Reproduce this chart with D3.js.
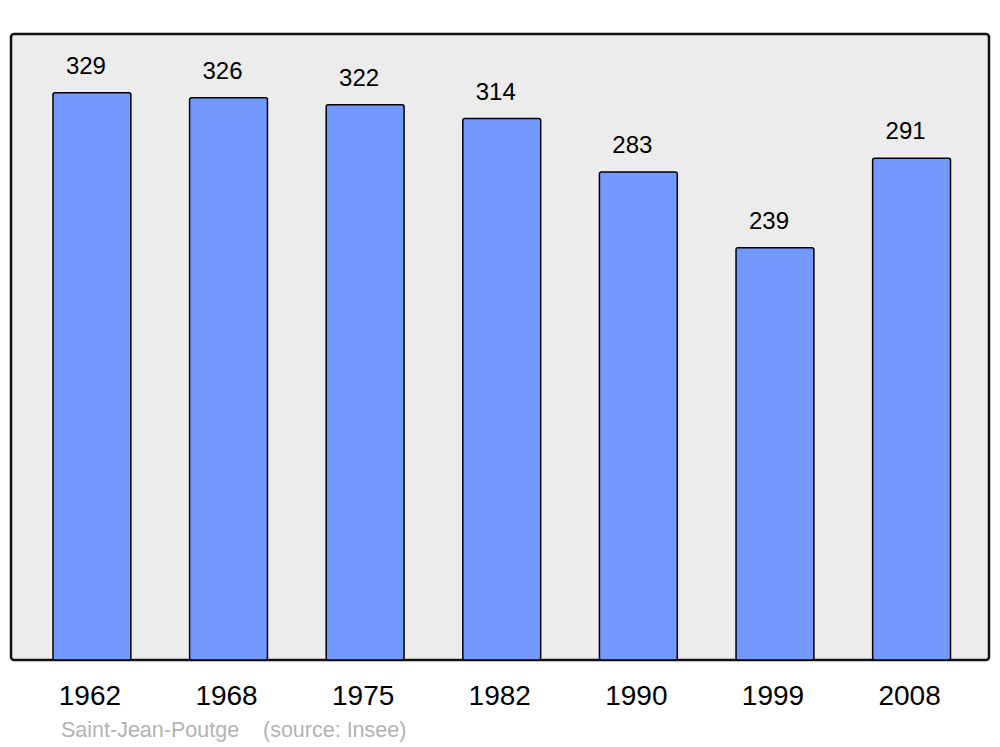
<!DOCTYPE html>
<meta charset="utf-8">
<style>
  body { margin: 0; background: #fff; }
  .value { font-family: "Liberation Sans", Arial, sans-serif; font-size: 24px; fill: #000; text-anchor: middle; }
  .year { font-family: "Liberation Sans", Arial, sans-serif; font-size: 28px; fill: #000; text-anchor: middle; }
  .source { font-family: "Liberation Sans", Arial, sans-serif; font-size: 21.5px; fill: #b3b3b3; }
</style>
<svg class="chart" width="1000" height="747"></svg>
<script src="https://d3js.org/d3.v7.min.js"></script>
<script>
  var years = ["1962", "1968", "1975", "1982", "1990", "1999", "2008"];
  var population = [329, 326, 322, 314, 283, 239, 291];
  var town = "Saint-Jean-Poutge";
  var sourceText = "(source: Insee)";

  var svg = d3.select(".chart");

  var panel = { x: 11, y: 34, w: 978, h: 626 };

  var x = d3.scaleBand()
      .domain(years)
      .range([12, 991.5])
      .paddingInner(0.43)
      .paddingOuter(0.3);

  var y = d3.scaleLinear()
      .domain([0, 363])
      .range([panel.y + panel.h, panel.y]);

  svg.append("rect")
      .attr("x", panel.x)
      .attr("y", panel.y)
      .attr("width", panel.w)
      .attr("height", panel.h)
      .attr("rx", 3)
      .attr("fill", "#ececec")
      .attr("stroke", "#111")
      .attr("stroke-width", 2.5);

  var bars = svg.append("g")
    .selectAll("g")
    .data(years)
    .enter().append("g");

  bars.append("rect")
      .attr("x", function (d) { return x(d); })
      .attr("y", function (d, i) { return y(population[i]); })
      .attr("width", x.bandwidth())
      .attr("height", function (d, i) { return y(0) - y(population[i]); })
      .attr("rx", 2)
      .attr("fill", "#7399ff")
      .attr("stroke", "#000")
      .attr("stroke-width", 1.5);

  bars.append("text")
      .attr("class", "value")
      .attr("x", function (d) { return x(d) + x.bandwidth() / 2 - 6; })
      .attr("y", function (d, i) { return y(population[i]) - 19; })
      .text(function (d, i) { return population[i]; });

  bars.append("text")
      .attr("class", "year")
      .attr("x", function (d) { return x(d) + x.bandwidth() / 2 - 2; })
      .attr("y", 705)
      .text(function (d) { return d; });

  var src = svg.append("text")
      .attr("class", "source")
      .attr("x", 61)
      .attr("y", 737);
  src.append("tspan").text(town);
  src.append("tspan").attr("x", 263).text(sourceText);
</script>
